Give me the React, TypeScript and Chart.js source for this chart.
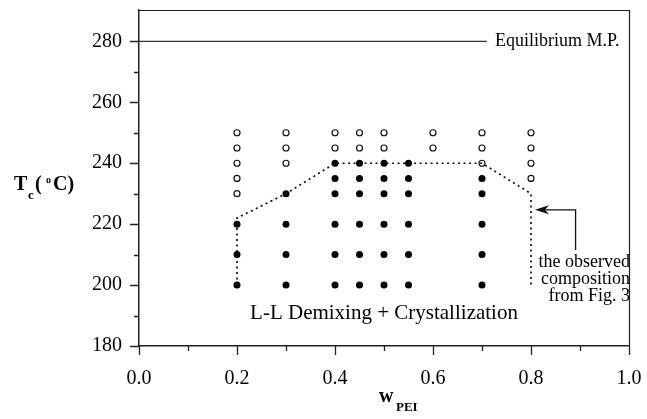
import React, { useEffect, useRef } from "react";
import { Chart, registerables } from "chart.js";

Chart.register(...registerables);

// PEI weight fractions of the blends that were studied
const compositions = [0.2, 0.3, 0.4, 0.45, 0.5, 0.55, 0.6, 0.7, 0.8];
// crystallization temperatures without L-L demixing (open circles), per composition
const singlePhaseTemps = [
  [250, 245, 240, 235, 230],
  [250, 245, 240],
  [250, 245],
  [250, 245],
  [250, 245],
  [],
  [250, 245],
  [250, 245, 240],
  [250, 245, 240, 235],
];
// crystallization temperatures with L-L demixing (filled circles), per composition
const demixedTemps = [
  [220, 210, 200],
  [230, 220, 210, 200],
  [240, 235, 230, 220, 210, 200],
  [240, 235, 230, 220, 210, 200],
  [240, 235, 230, 220, 210, 200],
  [240, 235, 230, 220, 210, 200],
  [],
  [235, 230, 220, 210, 200],
  [],
];
// dotted boundary of the demixing region
const boundaryW = [0.2, 0.2, 0.3, 0.4, 0.7, 0.8, 0.8];
const boundaryT = [200, 222, 230, 240, 240, 230, 199];
// equilibrium melting point line
const equilibriumW = [0, 0.71];
const equilibriumT = [280, 280];

const xTickValues = [0, 0.2, 0.4, 0.6, 0.8, 1.0];
const xMinorValues = [0.1, 0.3, 0.5, 0.7, 0.9];
const yTickValues = [180, 200, 220, 240, 260, 280];
const yMinorValues = [190, 210, 230, 250, 270];

const SERIF = "'Liberation Serif', 'Times New Roman', serif";

const overlayPlugin = {
  id: "overlay",
  afterDraw(chart: any) {
    const { ctx, chartArea: a, scales } = chart;
    const xs = scales.x;
    const ys = scales.y;
    ctx.save();
    ctx.strokeStyle = "#222";
    // top & right frame
    ctx.lineWidth = 1.2;
    ctx.beginPath();
    ctx.moveTo(a.left, a.top + 0.5);
    ctx.lineTo(a.right + 0.5, a.top + 0.5);
    ctx.lineTo(a.right + 0.5, a.bottom);
    ctx.stroke();
    // tick marks
    ctx.lineWidth = 1.3;
    ctx.beginPath();
    yTickValues.forEach((v) => {
      const p = Math.round(ys.getPixelForValue(v)) + 0.5;
      ctx.moveTo(a.left - 9, p);
      ctx.lineTo(a.left, p);
    });
    yMinorValues.forEach((v) => {
      const p = Math.round(ys.getPixelForValue(v)) + 0.5;
      ctx.moveTo(a.left - 5, p);
      ctx.lineTo(a.left, p);
    });
    xTickValues.forEach((v) => {
      const p = Math.round(xs.getPixelForValue(v)) + 0.5;
      ctx.moveTo(p, a.bottom);
      ctx.lineTo(p, a.bottom + 9);
    });
    xMinorValues.forEach((v) => {
      const p = Math.round(xs.getPixelForValue(v)) + 0.5;
      ctx.moveTo(p, a.bottom);
      ctx.lineTo(p, a.bottom + 5);
    });
    ctx.stroke();

    ctx.fillStyle = "#000";
    // y axis title: T_c(°C)
    ctx.textBaseline = "alphabetic";
    ctx.textAlign = "left";
    ctx.font = `bold 20px ${SERIF}`;
    ctx.fillText("T", 14, 190);
    ctx.font = `bold 13px ${SERIF}`;
    ctx.fillText("c", 28, 199);
    ctx.font = `bold 20px ${SERIF}`;
    ctx.fillText("(", 35, 190);
    ctx.font = `bold 10px ${SERIF}`;
    ctx.fillText("o", 46, 183);
    ctx.font = `bold 20px ${SERIF}`;
    ctx.fillText("C)", 53, 190);

    // x axis title: w_PEI
    ctx.font = `bold 20px ${SERIF}`;
    ctx.fillText("w", 379, 402);
    ctx.font = `bold 13px ${SERIF}`;
    ctx.fillText("PEI", 396, 411);

    // Equilibrium M.P.
    ctx.font = `18px ${SERIF}`;
    ctx.textBaseline = "middle";
    ctx.fillText("Equilibrium M.P.", 495, ys.getPixelForValue(280));

    // region label
    ctx.font = `21px ${SERIF}`;
    ctx.textAlign = "center";
    ctx.textBaseline = "alphabetic";
    ctx.fillText("L-L Demixing + Crystallization", xs.getPixelForValue(0.5), ys.getPixelForValue(189));

    // observed composition note
    ctx.font = `18px ${SERIF}`;
    ctx.textAlign = "right";
    const rx = xs.getPixelForValue(1.0) + 1;
    ctx.fillText("the observed", rx, 267);
    ctx.fillText("composition", rx, 284);
    ctx.fillText("from Fig. 3", rx, 301);

    // arrow
    const vx = xs.getPixelForValue(0.891);
    const tipX = xs.getPixelForValue(0.808);
    const ay = ys.getPixelForValue(224.7);
    const by = ys.getPixelForValue(211.5);
    ctx.strokeStyle = "#111";
    ctx.lineWidth = 1.3;
    ctx.beginPath();
    ctx.moveTo(vx, by);
    ctx.lineTo(vx, ay);
    ctx.lineTo(tipX + 8, ay);
    ctx.stroke();
    ctx.beginPath();
    ctx.moveTo(tipX, ay);
    ctx.lineTo(tipX + 14, ay - 4.5);
    ctx.lineTo(tipX + 10, ay);
    ctx.lineTo(tipX + 14, ay + 4.5);
    ctx.closePath();
    ctx.fillStyle = "#111";
    ctx.fill();
    ctx.restore();
  },
};

export default function App() {
  const canvasRef = useRef<HTMLCanvasElement | null>(null);

  useEffect(() => {
    const canvas = canvasRef.current;
    if (!canvas) return;
    const openPts = compositions.flatMap((w, i) => singlePhaseTemps[i].map((t) => ({ x: w, y: t })));
    const filledPts = compositions.flatMap((w, i) => demixedTemps[i].map((t) => ({ x: w, y: t })));
    const boundary = boundaryW.map((w, i) => ({ x: w, y: boundaryT[i] }));
    const eq = equilibriumW.map((w, i) => ({ x: w, y: equilibriumT[i] }));

    const chart = new Chart(canvas, {
      type: "scatter",
      data: {
        datasets: [
          {
            data: eq,
            showLine: true,
            borderColor: "#333",
            borderWidth: 1.3,
            pointRadius: 0,
          },
          {
            data: boundary,
            showLine: true,
            borderColor: "#111",
            borderWidth: 1.7,
            borderDash: [2, 3.5],
            pointRadius: 0,
          },
          {
            data: openPts,
            pointStyle: "circle",
            pointRadius: 3,
            pointBorderWidth: 1.2,
            pointBorderColor: "#111",
            pointBackgroundColor: "#fff",
          },
          {
            data: filledPts,
            pointStyle: "circle",
            pointRadius: 3.5,
            pointBorderWidth: 0,
            pointBackgroundColor: "#000",
          },
        ],
      } as any,
      options: {
        responsive: false,
        animation: false,
        devicePixelRatio: 1,
        layout: { padding: { top: 10, right: 18, left: 0, bottom: 0 } },
        plugins: { legend: { display: false }, tooltip: { enabled: false } },
        scales: {
          x: {
            type: "linear",
            min: 0,
            max: 1,
            afterBuildTicks: (s: any) => {
              s.ticks = xTickValues.map((v) => ({ value: v }));
            },
            afterFit: (s: any) => {
              s.height = 73;
              s.paddingLeft = 0;
              s.paddingRight = 0;
            },
            grid: { display: false, drawTicks: false },
            border: { display: true, color: "#222", width: 1.5 },
            ticks: {
              color: "#000",
              padding: 21,
              maxRotation: 0,
              font: { family: SERIF, size: 20 },
              callback: (v: any) => Number(v).toFixed(1),
            },
          },
          y: {
            type: "linear",
            min: 180,
            max: 290.3,
            afterBuildTicks: (s: any) => {
              s.ticks = yTickValues.map((v) => ({ value: v }));
            },
            afterFit: (s: any) => {
              s.width = 139;
              s.paddingTop = 0;
              s.paddingBottom = 0;
            },
            grid: { display: false, drawTicks: false },
            border: { display: true, color: "#222", width: 1.5 },
            ticks: {
              color: "#000",
              padding: 17,
              font: { family: SERIF, size: 20 },
              callback: (v: any) => String(v),
            },
          },
        },
      } as any,
      plugins: [overlayPlugin],
    });
    return () => chart.destroy();
  }, []);

  return (
    <div style={{ position: "absolute", left: 0, top: 0, width: 647, height: 419, background: "#fff" }}>
      <canvas ref={canvasRef} width={647} height={419} style={{ display: "block", width: 647, height: 419 }} />
    </div>
  );
}
